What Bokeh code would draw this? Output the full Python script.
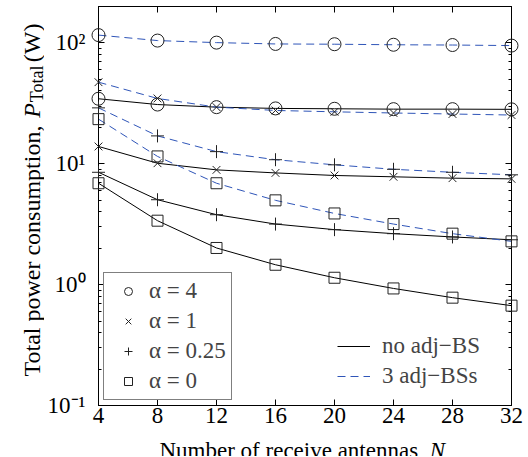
import math
from bokeh.plotting import figure
from bokeh.layouts import row, column
from bokeh.models import (Range1d, FixedTicker, LinearAxis, LogAxis, Legend,
                          LegendItem, Label)
from bokeh.embed import file_html
from bokeh.resources import INLINE

# ---- data ----
N = [4, 8, 12, 16, 20, 24, 28, 32]
a4_noadj = [34.5, 30.9, 29.4, 28.7, 28.5, 28.3, 28.3, 28.2]
a4_adj = [116, 104.5, 100.5, 98.0, 97.5, 96.5, 96.0, 95.0]
a1_noadj = [13.9, 10.1, 8.9, 8.4, 8.0, 7.8, 7.6, 7.5]
a1_adj = [47.3, 34.7, 29.4, 27.6, 26.9, 26.3, 25.8, 25.3]
a025_noadj = [8.5, 5.04, 3.79, 3.17, 2.85, 2.64, 2.48, 2.35]
a025_adj = [29.0, 17.0, 12.6, 10.8, 9.8, 9.0, 8.5, 8.1]
a0_noadj = [6.9, 3.38, 2.01, 1.46, 1.14, 0.93, 0.78, 0.67]
a0_adj = [23.4, 11.5, 6.9, 4.98, 3.88, 3.17, 2.64, 2.28]

alpha_labels = ["α = 4", "α = 1", "α = 0.25", "α = 0"]
scenario_labels = ["no adj\u2212BS", "3 adj\u2212BSs"]
x_ticks = [4, 8, 12, 16, 20, 24, 28, 32]
y_major = [0.1, 1, 10, 100]
y_tick_labels = ["10\u207b\u00b9", "10\u2070", "10\u00b9", "10\u00b2"]

FONT = "Liberation Serif"
FS = 23
BLUE = "#2f55b8"
MK = "#222222"

# ---------------- main plot ----------------
p = figure(width=480, height=433, x_range=Range1d(4, 32),
           y_range=Range1d(0.1, 200), y_axis_type="log",
           output_backend="svg", toolbar_location=None,
           min_border_left=52, min_border_right=13, min_border_top=6,
           min_border_bottom=28, frame_align=False)
p.title.visible = False
p.grid.visible = False
p.outline_line_color = "black"
p.outline_line_width = 1
p.background_fill_color = "white"
p.border_fill_color = "white"

minor = [m * 10.0 ** k for k in range(-1, 3) for m in range(2, 10)]
yt = FixedTicker(ticks=y_major, minor_ticks=minor)
xt = FixedTicker(ticks=x_ticks, minor_ticks=[])

def style_axis(ax):
    ax.axis_line_color = "black"
    ax.major_tick_in = 6
    ax.major_tick_out = 0
    ax.minor_tick_in = 3
    ax.minor_tick_out = 0
    ax.major_tick_line_color = "black"
    ax.minor_tick_line_color = "black"
    ax.major_label_text_font = FONT
    ax.major_label_text_font_size = f"{FS}px"
    ax.major_label_text_color = "black"

xa = p.xaxis[0]
xa.ticker = xt
style_axis(xa)
xa.major_label_standoff = 2
ya = p.yaxis[0]
ya.ticker = yt
style_axis(ya)
ya.major_label_standoff = 13
ya.major_label_overrides = {v: s for v, s in zip(y_major, y_tick_labels)}

top = LinearAxis(ticker=xt)
style_axis(top)
top.major_label_overrides = {v: "" for v in x_ticks}
top.major_label_standoff = 0
p.add_layout(top, "above")
right = LogAxis(ticker=yt)
style_axis(right)
right.major_label_overrides = {v: "" for v in y_major}
right.major_label_standoff = 0
p.add_layout(right, "right")

series = [
    (a4_noadj, a4_adj, "circle", 13),
    (a1_noadj, a1_adj, "x", 11),
    (a025_noadj, a025_adj, "cross", 13),
    (a0_noadj, a0_adj, "square", 11),
]
marker_renderers = []
solid_line = None
dash_line = None
for noadj, adj, mk, sz in series:
    l1 = p.line(N, noadj, line_color="black", line_width=1)
    l2 = p.line(N, adj, line_color=BLUE, line_width=1, line_dash="8 5")
    s1 = p.scatter(N, noadj, marker=mk, size=sz, fill_color=None,
                   line_color=MK, line_width=1, level="overlay")
    p.scatter(N, adj, marker=mk, size=sz, fill_color=None,
              line_color=MK, line_width=1, level="overlay")
    marker_renderers.append(s1)
    if solid_line is None:
        solid_line, dash_line = l1, l2

leg1 = Legend(items=[LegendItem(label=t, renderers=[r])
                     for t, r in zip(alpha_labels, marker_renderers)],
              location="bottom_left", orientation="vertical",
              label_text_font=FONT, label_text_font_size=f"{FS}px",
              glyph_width=38, glyph_height=20, label_height=20,
              label_standoff=2, spacing=4, padding=5, margin=5,
              border_line_color="black", border_line_width=1,
              background_fill_color="white", background_fill_alpha=1)
p.add_layout(leg1)

leg2 = Legend(items=[LegendItem(label=scenario_labels[0], renderers=[solid_line]),
                     LegendItem(label=scenario_labels[1], renderers=[dash_line])],
              location="bottom_right", orientation="vertical",
              label_text_font=FONT, label_text_font_size=f"{FS}px",
              glyph_width=33, glyph_height=20, label_height=20,
              label_width=113, label_standoff=12, spacing=4, padding=0,
              margin=16, border_line_color=None, background_fill_alpha=0)
p.add_layout(leg2)

# ---------------- axis titles (text strips beside the plot) ----------------
W = {"T": 611, "o": 500, "t": 278, "a": 444, "l": 278, " ": 250, "p": 500,
     "w": 722, "e": 444, "r": 333, "c": 444, "n": 500, "s": 389, "u": 500,
     "m": 778, "i": 278, ",": 250, "P": 611, "(": 333, "W": 944, ")": 333,
     "N": 722, "b": 500, "f": 333, "v": 500}

def tw(s, size):
    return sum(W.get(ch, 500) for ch in s) / 1000.0 * size

def strip(w, h):
    f = figure(width=w, height=h, x_range=Range1d(0, w), y_range=Range1d(0, h),
               output_backend="svg", toolbar_location=None,
               x_axis_location=None, y_axis_location=None,
               min_border=0, frame_align=False)
    f.title.visible = False
    f.grid.visible = False
    f.outline_line_color = None
    f.background_fill_color = "white"
    f.border_fill_color = "white"
    return f

# y title strip (left), rotated text reading bottom -> top
YW, YH = 44, 456
ylab = strip(YW, YH)
YFS = 24
pieces = [("Total power consumption, ", YFS, "normal", 0, 0),
          ("P", YFS, "italic", 0, 0),
          ("Total", 18, "normal", 5, 1),
          (" (W)", YFS, "normal", 0, 2)]
y0 = 80.0
for txt, sz, st, dx, gap in pieces:
    y0 += gap
    ylab.add_layout(Label(x=31 + dx, y=y0, text=txt, angle=math.pi / 2,
                          text_font=FONT, text_font_size=f"{sz}px",
                          text_font_style=st, text_align="left",
                          text_baseline="alphabetic", text_color="black"))
    y0 += tw(txt, sz)

# x title strip (below); anchored to the strip's top edge, baseline 17 px down
XH = 23
xlab = strip(480, XH)
x0 = 115.0
for txt, st in [("Number of receive antennas, ", "normal"), ("N", "italic")]:
    xlab.add_layout(Label(x=x0, y=XH, y_offset=-17, text=txt, text_font=FONT,
                          text_font_size=f"{FS}px", text_font_style=st,
                          text_align="left", text_baseline="alphabetic",
                          text_color="black"))
    x0 += tw(txt, FS)

layout = row(ylab, column(p, xlab, spacing=0), spacing=0)
open("out.html", "w").write(file_html(layout, INLINE))
